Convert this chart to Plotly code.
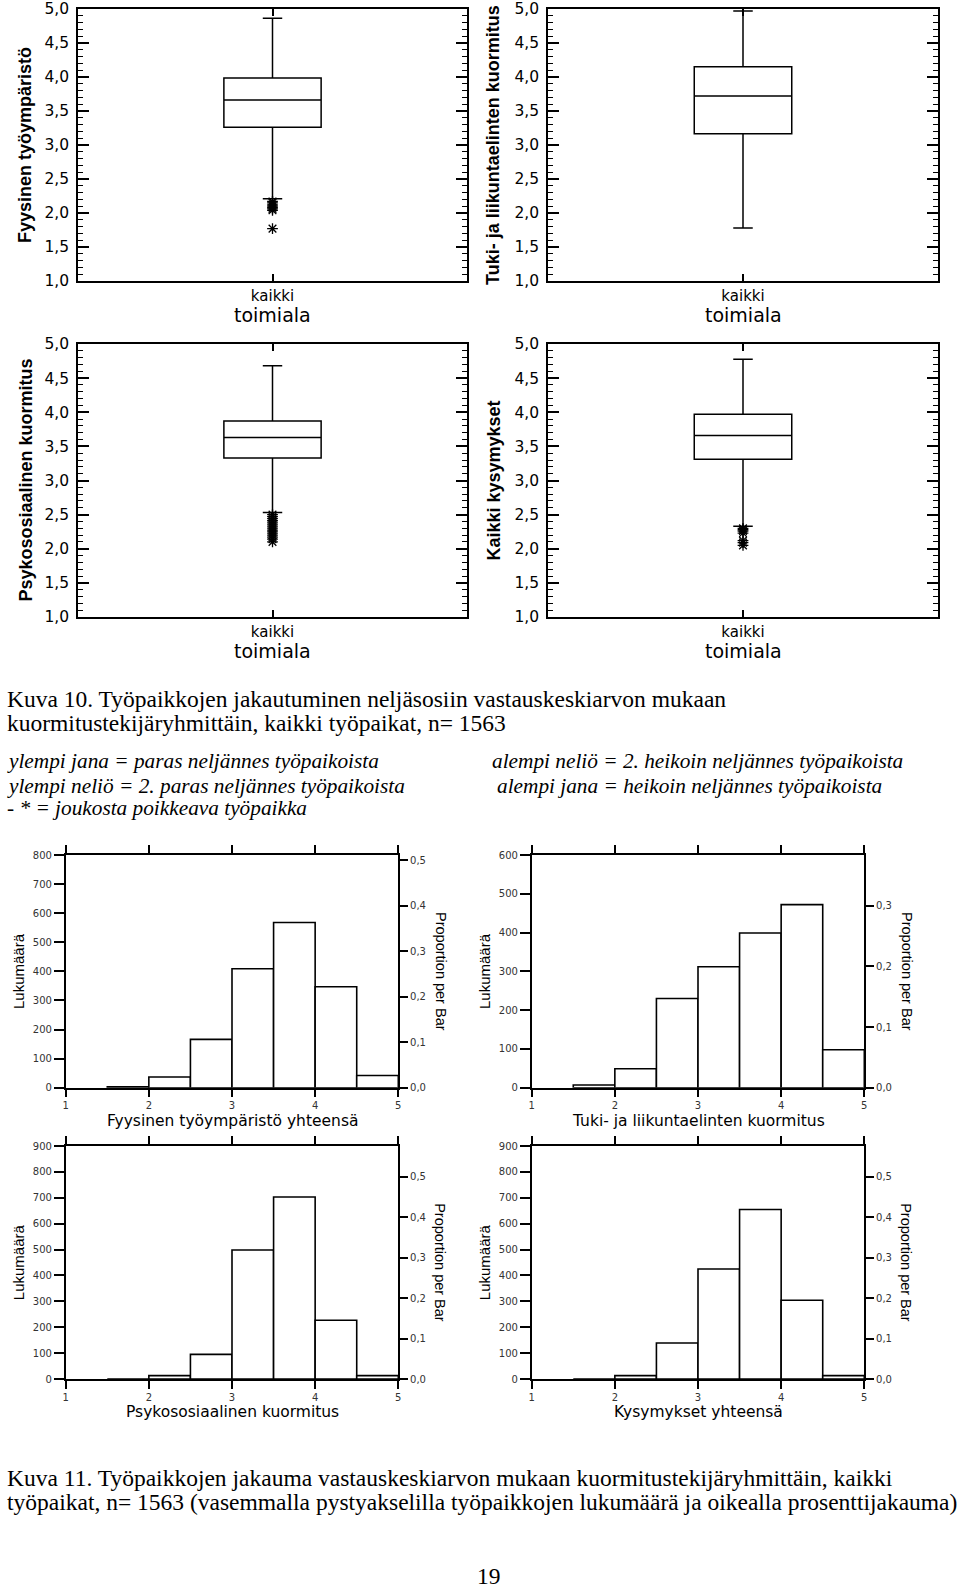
import plotly.graph_objects as go

W, H = 960, 1590
N_TOTAL = 1563

# ---------------- data ----------------
box_titles = ["Fyysinen työympäristö", "Tuki- ja liikuntaelinten kuormitus",
              "Psykososiaalinen kuormitus", "Kaikki kysymykset"]
box_category = ["kaikki"]
box_xtitle = "toimiala"
box_q1 = [3.26, 3.165, 3.33, 3.31]
box_median = [3.66, 3.72, 3.63, 3.66]
box_q3 = [3.985, 4.15, 3.87, 3.97]
box_lowerfence = [2.21, 1.78, 2.53, 2.33]
box_upperfence = [4.865, 4.97, 4.68, 4.775]
outliers_fyysinen = [2.17, 2.15, 2.12, 2.10, 2.08, 2.06, 2.04, 1.77]
outliers_tuki = []
outliers_psyko = [2.50, 2.47, 2.44, 2.41, 2.38, 2.35, 2.32, 2.29, 2.26, 2.23, 2.20, 2.17, 2.14, 2.10]
outliers_kaikki = [2.30, 2.28, 2.26, 2.23, 2.12, 2.09, 2.05]
box_outliers = [outliers_fyysinen, outliers_tuki, outliers_psyko, outliers_kaikki]
box_ticks = [1.0, 1.5, 2.0, 2.5, 3.0, 3.5, 4.0, 4.5, 5.0]

hist_titles = ["Fyysinen työympäristö yhteensä", "Tuki- ja liikuntaelinten kuormitus",
               "Psykososiaalinen kuormitus", "Kysymykset yhteensä"]
bin_centers = [1.75, 2.25, 2.75, 3.25, 3.75, 4.25, 4.75]
counts_fyysinen = [3, 37, 166, 409, 568, 347, 42]
counts_tuki = [7, 49, 230, 312, 399, 472, 98]
counts_psyko = [0, 13, 95, 498, 703, 227, 13]
counts_kaikki = [0, 13, 139, 425, 655, 304, 13]
hist_counts = [counts_fyysinen, counts_tuki, counts_psyko, counts_kaikki]
hist_ymax = [800, 600, 900, 900]
hist_xticks = [1, 2, 3, 4, 5]
hist_left_title = "Lukumäärä"
hist_right_title = "Proportion per Bar"

caption10 = ["Kuva 10. Työpaikkojen jakautuminen neljäsosiin vastauskeskiarvon mukaan",
             "kuormitustekijäryhmittäin, kaikki työpaikat, n= 1563"]
legend_left = ["ylempi jana = paras neljännes työpaikoista",
               "ylempi neliö = 2. paras neljännes työpaikoista",
               "- * = joukosta poikkeava työpaikka"]
legend_right = ["alempi neliö = 2. heikoin neljännes työpaikoista",
                "alempi jana = heikoin neljännes työpaikoista"]
caption11 = ["Kuva 11. Työpaikkojen jakauma vastauskeskiarvon mukaan kuormitustekijäryhmittäin, kaikki",
             "työpaikat, n= 1563 (vasemmalla pystyakselilla työpaikkojen lukumäärä ja oikealla prosenttijakauma)"]
page_number = "19"

# ---------------- layout helpers ----------------
def xd(a, b):
    return [a / W, b / W]

def yd(top, bottom):
    return [1 - bottom / H, 1 - top / H]

def px(x):
    return x / W

def py(y):
    return 1 - y / H

SERIF = "Liberation Serif, Times New Roman, serif"
SANS = "Liberation Sans, Arial, sans-serif"
WIDE = "DejaVu Sans, Verdana, sans-serif"

box_frames = [(78, 467, 9, 281), (548, 938, 9, 281), (78, 467, 344, 617), (548, 938, 344, 617)]
box_title_x = [25, 493, 25, 493]
hist_frames = [(65.7, 398.3, 855, 1087.7), (531.7, 864.3, 855, 1087.7),
               (65.7, 398.3, 1146, 1379), (531.7, 864.3, 1146, 1379)]

fig = go.Figure()
layout = dict(width=W, height=H, margin=dict(l=0, r=0, t=0, b=0, autoexpand=False),
              paper_bgcolor="white", plot_bgcolor="white", showlegend=False,
              separators=", ", annotations=[])

# ---------------- box plots ----------------
for i in range(4):
    n = i + 1
    xs = "" if n == 1 else str(n)
    x0, x1, y0, y1 = box_frames[i]
    fig.add_trace(go.Box(
        x=[0], q1=[box_q1[i]], median=[box_median[i]], q3=[box_q3[i]],
        lowerfence=[box_lowerfence[i]], upperfence=[box_upperfence[i]],
        boxpoints=False, width=0.5, whiskerwidth=0.2,
        fillcolor="rgba(0,0,0,0)", line=dict(color="black", width=1.5),
        xaxis="x" + xs, yaxis="y" + xs, hoverinfo="skip"))
    if box_outliers[i]:
        fig.add_trace(go.Scatter(
            x=[0] * len(box_outliers[i]), y=box_outliers[i], mode="markers",
            marker=dict(symbol="asterisk-open", size=9, color="black",
                        line=dict(color="black", width=1.3)),
            xaxis="x" + xs, yaxis="y" + xs, hoverinfo="skip"))
    layout["xaxis" + xs] = dict(
        domain=xd(x0, x1), anchor="y" + xs, range=[-1, 1],
        tickvals=[0], ticktext=box_category, ticks="inside", ticklen=7,
        tickwidth=1.5, tickcolor="black", showline=True, linecolor="black",
        linewidth=1.5, mirror="ticks", showgrid=False, zeroline=False,
        automargin=False, ticklabelstandoff=0,
        tickfont=dict(family=WIDE, size=15, color="black"))
    layout["yaxis" + xs] = dict(
        domain=yd(y0, y1), anchor="x" + xs, range=[1, 5],
        tickvals=box_ticks, tickformat=".1f", ticks="inside", ticklen=11,
        tickwidth=1.5, tickcolor="black", showline=True, linecolor="black",
        linewidth=1.5, mirror="ticks", showgrid=False, zeroline=False,
        ticklabelstandoff=4, automargin=False, ticklabeloverflow="allow",
        minor=dict(dtick=0.1, tick0=1, ticks="inside", ticklen=5,
                   tickwidth=1, tickcolor="black", showgrid=False),
        tickfont=dict(family=WIDE, size=15.5, color="black"))
    layout["annotations"].append(dict(
        text="<b>" + box_titles[i] + "</b>", x=px(box_title_x[i]), y=py((y0 + y1) / 2),
        xref="paper", yref="paper", showarrow=False, textangle=-90,
        xanchor="center", yanchor="middle",
        font=dict(family=SANS, size=18, color="black")))
    layout["annotations"].append(dict(
        text=box_xtitle, x=px((x0 + x1) / 2), y=py(y1 + 34),
        xref="paper", yref="paper", showarrow=False,
        xanchor="center", yanchor="middle",
        font=dict(family=WIDE, size=19, color="black")))

# ---------------- histograms ----------------
for i in range(4):
    n = 5 + i
    xs = str(n)
    ys2 = str(9 + i)
    x0, x1, y0, y1 = hist_frames[i]
    fig.add_trace(go.Bar(
        x=bin_centers, y=hist_counts[i], width=0.5,
        marker=dict(color="white", line=dict(color="black", width=1.6)),
        xaxis="x" + xs, yaxis="y" + xs, hoverinfo="skip"))
    fig.add_trace(go.Scatter(x=[], y=[], xaxis="x" + xs, yaxis="y" + ys2,
                             mode="markers", hoverinfo="skip"))
    tickfont = dict(family=WIDE, size=10, color="#333")
    layout["xaxis" + xs] = dict(
        domain=xd(x0, x1), anchor="y" + xs, range=[1, 5], tickvals=hist_xticks,
        ticks="outside", ticklen=8, tickwidth=1.5, tickcolor="black",
        showline=True, linecolor="black", linewidth=1.5, mirror="ticks",
        showgrid=False, zeroline=False, tickfont=tickfont, automargin=False,
        ticklabelstandoff=0)
    layout["yaxis" + xs] = dict(
        domain=yd(y0, y1), anchor="x" + xs, range=[0, hist_ymax[i]], dtick=100,
        ticks="outside", ticklen=10, tickwidth=1.5, tickcolor="black",
        showline=True, linecolor="black", linewidth=1.5,
        showgrid=False, zeroline=False, tickfont=tickfont, automargin=False)
    layout["yaxis" + ys2] = dict(
        overlaying="y" + xs, anchor="x" + xs, side="right",
        range=[0, hist_ymax[i] / N_TOTAL], dtick=0.1, tickformat=".1f",
        ticks="outside", ticklen=8, tickwidth=1.5, tickcolor="black",
        showline=True, linecolor="black", linewidth=1.5,
        showgrid=False, zeroline=False, tickfont=tickfont, automargin=False)
    layout["annotations"].append(dict(
        text=hist_titles[i], x=px((x0 + x1) / 2), y=py(y1 + 33),
        xref="paper", yref="paper", showarrow=False,
        xanchor="center", yanchor="middle",
        font=dict(family=WIDE, size=15.5, color="black")))
    layout["annotations"].append(dict(
        text=hist_left_title, x=px(x0 - 47), y=py((y0 + y1) / 2),
        xref="paper", yref="paper", showarrow=False, textangle=-90,
        xanchor="center", yanchor="middle",
        font=dict(family=SANS, size=15, color="black")))
    layout["annotations"].append(dict(
        text=hist_right_title, x=px(x1 + 42), y=py((y0 + y1) / 2),
        xref="paper", yref="paper", showarrow=False, textangle=90,
        xanchor="center", yanchor="middle",
        font=dict(family=SANS, size=14.5, color="black")))

# ---------------- captions ----------------
def add_text(txt, x, y, size, italic=False, anchor="left"):
    t = "<i>" + txt + "</i>" if italic else txt
    layout["annotations"].append(dict(
        text=t, x=px(x), y=py(y), xref="paper", yref="paper", showarrow=False,
        xanchor=anchor, yanchor="middle",
        font=dict(family=SERIF, size=size, color="black")))

add_text(caption10[0], 5, 699, 23.5)
add_text(caption10[1], 5, 723, 23.5)
add_text(legend_left[0], 5, 761, 21.3, italic=True)
add_text(legend_left[1], 5, 786, 21.3, italic=True)
add_text(legend_left[2], 5, 808, 21.3, italic=True)
add_text(legend_right[0], 490, 761, 21.3, italic=True)
add_text(legend_right[1], 495, 786, 21.3, italic=True)
add_text(caption11[0], 5, 1478, 23.5)
add_text(caption11[1], 5, 1502, 23.5)
add_text(page_number, 489, 1576, 23.5, anchor="center")

fig.update_layout(**layout)
fig.write_html("out.html", config={"displayModeBar": False},
               post_script="document.body.style.margin='0';document.body.style.padding='0';")
